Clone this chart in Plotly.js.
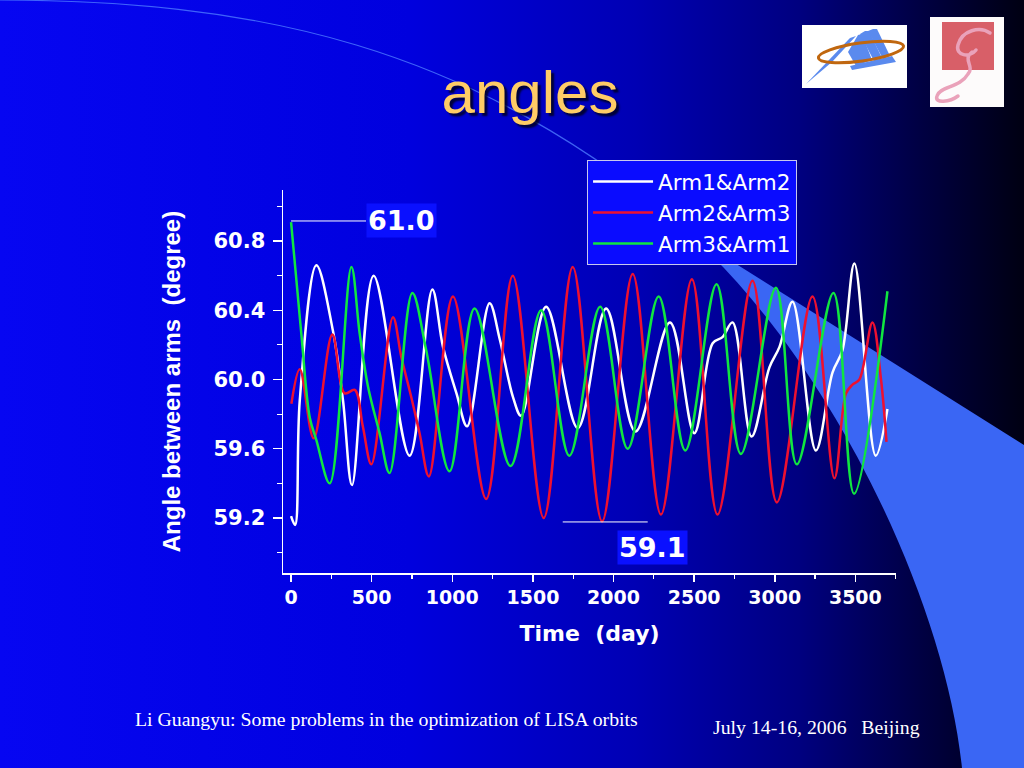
<!DOCTYPE html>
<html>
<head>
<meta charset="utf-8">
<script src="https://cdn.plot.ly/plotly-3.0.1.min.js"></script>
<style>
  html, body { margin: 0; padding: 0; width: 1024px; height: 768px; overflow: hidden; background: #000; }
  #bg { position: absolute; left: 0; top: 0; width: 1024px; height: 768px; z-index: 0; }
  #chart { position: absolute; left: 0; top: 0; width: 1024px; height: 768px; z-index: 1; }
</style>
</head>
<body>
<svg id="bg" width="1024" height="768" viewBox="0 0 1024 768">
  <defs>
    <linearGradient id="g1" x1="0" y1="0" x2="1" y2="0">
      <stop offset="0" stop-color="#0606f2"/>
      <stop offset="0.40" stop-color="#0000de"/>
      <stop offset="0.62" stop-color="#0000b4"/>
      <stop offset="0.78" stop-color="#000080"/>
      <stop offset="0.90" stop-color="#000042"/>
      <stop offset="1" stop-color="#000012"/>
    </linearGradient>
  </defs>
  <rect x="0" y="0" width="1024" height="768" fill="url(#g1)"/>
  <path d="M -10 0 C 250 0, 470 40, 700 240" fill="none" stroke="#4d7aff" stroke-width="1.2" opacity="0.8"/>
  <path d="M 690 235 L 1024 445 L 1024 768 L 962 768 C 945 600, 830 360, 690 235 Z" fill="#3a66f4"/>
  <!-- logo 1 -->
  <rect x="802" y="25" width="105" height="63" fill="#ffffff"/>
  <polygon points="806,84 850,38 856,36 832,62" fill="#5a8aee"/>
  <polygon points="848,52 858,35 862,34 872,60 856,66" fill="#5a8aee"/>
  <polygon points="860,34 865,31 869,31 882,58 874,61" fill="#5a8aee"/>
  <polygon points="868,31 873,29 877,29 890,56 883,59" fill="#5a8aee"/>
  <polygon points="850,66 892,56 896,62 852,70" fill="#5a8aee"/>
  <ellipse cx="861" cy="52" rx="43" ry="9" transform="rotate(-8 861 52)" fill="none" stroke="#c0670f" stroke-width="3"/>
  <!-- logo 2 -->
  <rect x="930" y="17" width="74" height="90" fill="#fdfbfb"/>
  <rect x="942" y="22" width="52" height="48" fill="#d85f68"/>
  <path d="M 990 33 C 980 26, 962 30, 958 45 C 955 56, 970 58, 976 50 M 972 52 C 962 60, 975 66, 968 74 C 960 88, 940 86, 937 96 C 934 104, 950 102, 958 96" fill="none" stroke="#eaa2ba" stroke-width="3.5" stroke-linecap="round"/>
</svg>
<div id="chart"></div>
<script>
// Time (day) and angle (degree) values
const daysArm12 = [0, 25, 54, 157, 260, 322, 378, 512, 735, 876, 942, 1026, 1092, 1231, 1295, 1376, 1427, 1582, 1778, 1954, 2136, 2350, 2501, 2615, 2676, 2738, 2856, 2967, 3030, 3110, 3255, 3358, 3420, 3494, 3626, 3699];
const angArm12  = [59.21, 59.16, 59.88, 60.66, 60.28, 59.88, 59.39, 60.60, 59.56, 60.52, 60.19, 59.92, 59.73, 60.44, 60.23, 59.90, 59.79, 60.42, 59.72, 60.41, 59.70, 60.33, 59.69, 60.21, 60.245, 60.33, 59.67, 60.07, 60.19, 60.45, 59.59, 60.04, 60.17, 60.67, 59.56, 59.83];

const daysArm23 = [2, 54, 140, 256, 333, 395, 445, 498, 632, 684, 745, 797, 855, 1004, 1210, 1375, 1567, 1747, 1929, 2119, 2294, 2486, 2645, 2862, 3013, 3234, 3370, 3442, 3482, 3525, 3606, 3659, 3693];
const angArm23  = [59.86, 60.06, 59.66, 60.26, 59.92, 59.94, 59.73, 59.51, 60.36, 60.13, 59.90, 59.69, 59.44, 60.48, 59.31, 60.60, 59.20, 60.65, 59.18, 60.61, 59.22, 60.58, 59.22, 60.57, 59.29, 60.48, 59.43, 59.92, 59.97, 60.00, 60.33, 60.00, 59.64];

const daysArm31 = [0, 64, 116, 157, 240, 374, 425, 477, 549, 611, 752, 838, 983, 1138, 1361, 1551, 1726, 1917, 2088, 2280, 2445, 2639, 2790, 3007, 3137, 3364, 3492, 3699];
const angArm31  = [60.91, 60.26, 59.78, 59.65, 59.40, 60.65, 60.27, 59.96, 59.69, 59.46, 60.50, 60.17, 59.47, 60.41, 59.50, 60.40, 59.56, 60.42, 59.60, 60.48, 59.59, 60.55, 59.57, 60.53, 59.51, 60.50, 59.34, 60.51];

const seriesNames = ['Arm1&Arm2', 'Arm2&Arm3', 'Arm3&Arm1'];
const yTickVals = [59.2, 59.6, 60.0, 60.4, 60.8];
const yMinorVals = [59.0, 59.4, 59.8, 60.2, 60.6, 61.0];
const xTickVals = [0, 500, 1000, 1500, 2000, 2500, 3000, 3500];
const maxLabel = '61.0';
const minLabel = '59.1';

const boldFont = 'DejaVu Sans, Verdana, sans-serif';

const traces = [
  {x: daysArm12, y: angArm12, name: seriesNames[0], mode: 'lines',
   line: {color: '#ffffff', width: 2.5, shape: 'spline', smoothing: 1}},
  {x: daysArm23, y: angArm23, name: seriesNames[1], mode: 'lines',
   line: {color: '#ee1030', width: 2.5, shape: 'spline', smoothing: 1}},
  {x: daysArm31, y: angArm31, name: seriesNames[2], mode: 'lines',
   line: {color: '#10e640', width: 2.5, shape: 'spline', smoothing: 1}}
];

const layout = {
  width: 1024, height: 768,
  margin: {l: 283, r: 128, t: 190, b: 195},
  paper_bgcolor: 'rgba(0,0,0,0)',
  plot_bgcolor: 'rgba(0,0,0,0)',
  showlegend: true,
  title: {
    text: 'angles',
    font: {family: 'Liberation Sans, Arial, sans-serif', size: 60, color: '#ffcc66', shadow: '3px 3px 2px rgba(0,0,30,0.85)'},
    xref: 'container', x: 0.5176, xanchor: 'center',
    yref: 'container', y: 0.88, yanchor: 'middle'
  },
  xaxis: {
    range: [-50, 3752],
    tickmode: 'array', tickvals: xTickVals,
    showline: true, linecolor: '#ffffff', linewidth: 1.5,
    ticks: 'outside', ticklen: 7, tickwidth: 1.5, tickcolor: '#ffffff',
    minor: {dtick: 250, tick0: 0, ticks: 'outside', ticklen: 4, tickwidth: 1.2, tickcolor: '#ffffff'},
    showgrid: false, zeroline: false,
    tickfont: {family: boldFont, weight: 'bold', size: 19, color: '#ffffff'},
    title: {text: 'Time \u00a0(day)', standoff: 18,
            font: {family: boldFont, weight: 'bold', size: 22, color: '#ffffff'}}
  },
  yaxis: {
    range: [58.882, 61.095],
    tickmode: 'array', tickvals: yTickVals, ticktext: yTickVals.map(v => v.toFixed(1)),
    showline: true, linecolor: '#ffffff', linewidth: 1.5,
    ticks: 'outside', ticklen: 9, tickwidth: 1.5, tickcolor: '#ffffff',
    minor: {tickmode: 'array', tickvals: yMinorVals, ticks: 'outside', ticklen: 5, tickwidth: 1.2, tickcolor: '#ffffff'},
    showgrid: false, zeroline: false,
    ticklabelstandoff: 3,
    tickfont: {family: boldFont, weight: 'bold', size: 21, color: '#ffffff'},
    title: {text: 'Angle between arms \u00a0(degree)', standoff: 26,
            font: {family: 'Liberation Sans, Arial, sans-serif', weight: 'bold', size: 24, color: '#ffffff'}}
  },
  legend: {
    x: 0.496, y: 1.078, xanchor: 'left', yanchor: 'top',
    bgcolor: '#0a0cff', bordercolor: '#c8c8ee', borderwidth: 1,
    font: {family: 'DejaVu Sans, sans-serif', size: 21.5, color: '#ffffff'},
    itemwidth: 60, tracegroupgap: 0
  },
  shapes: [
    {type: 'line', xref: 'x', yref: 'y', x0: 0, x1: 465, y0: 60.916, y1: 60.916, line: {color: '#ffffff', width: 1}},
    {type: 'line', xref: 'x', yref: 'y', x0: 1685, x1: 2212, y0: 59.177, y1: 59.177, line: {color: '#ffffff', width: 1}}
  ],
  annotations: [
    {xref: 'x', yref: 'y', x: 688, y: 60.92, text: maxLabel, showarrow: false,
     bgcolor: '#0a10ff', borderpad: 1,
     font: {family: boldFont, weight: 'bold', size: 27, color: '#ffffff'}},
    {xref: 'x', yref: 'y', x: 2239, y: 59.027, text: minLabel, showarrow: false,
     bgcolor: '#0a10ff', borderpad: 1,
     font: {family: boldFont, weight: 'bold', size: 27, color: '#ffffff'}},
    {xref: 'paper', yref: 'paper', x: -0.2447, y: -0.381, xanchor: 'left', yanchor: 'middle',
     text: 'Li Guangyu: Some problems in the optimization of LISA orbits', showarrow: false,
     font: {family: 'Liberation Serif, Times New Roman, serif', size: 19.8, color: '#ffffff'}},
    {xref: 'paper', yref: 'paper', x: 0.698, y: -0.402, xanchor: 'left', yanchor: 'middle',
     text: 'July 14-16, 2006 \u00a0 Beijing', showarrow: false,
     font: {family: 'Liberation Serif, Times New Roman, serif', size: 19.8, color: '#ffffff'}}
  ]
};

Plotly.newPlot('chart', traces, layout, {displayModeBar: false, staticPlot: true});
</script>
</body>
</html>
